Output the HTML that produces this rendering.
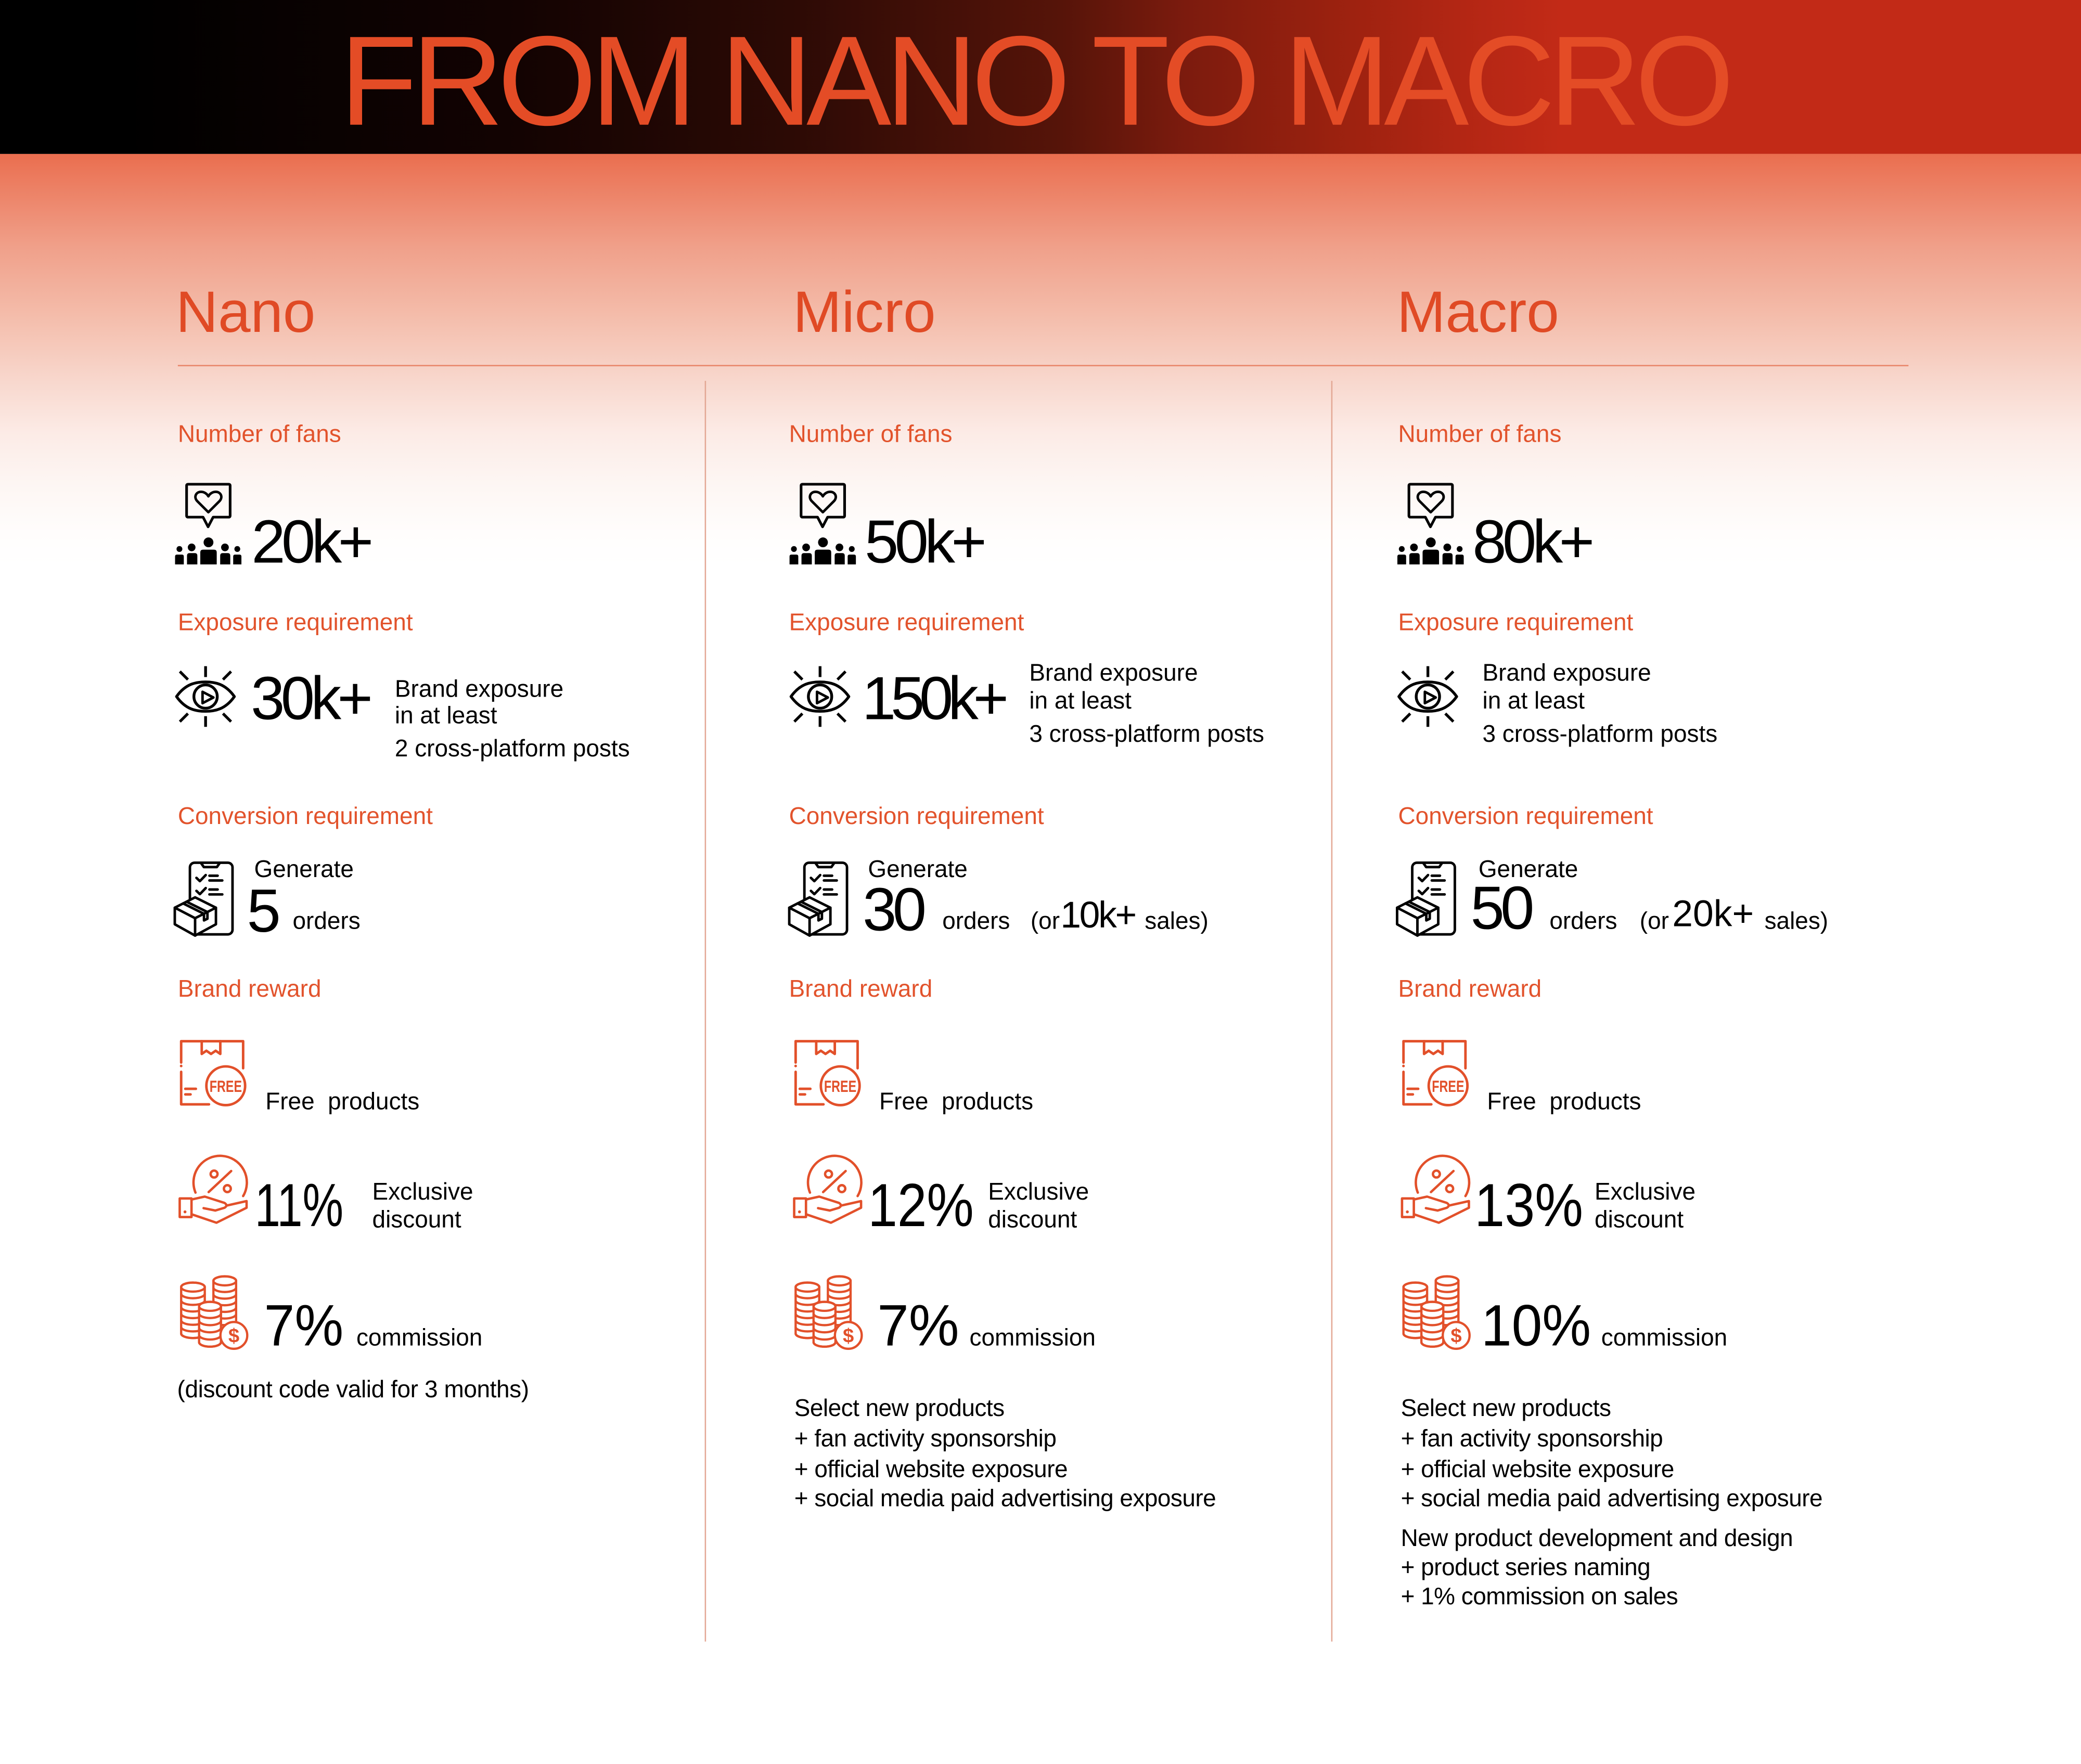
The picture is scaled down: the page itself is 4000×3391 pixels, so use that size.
<!DOCTYPE html>
<html><head><meta charset="utf-8">
<style>
html,body{margin:0;padding:0;background:#fff;}
body{width:4000px;height:3391px;overflow:hidden;}
#root{position:absolute;left:0;top:0;width:1568px;height:1329.3px;transform:scale(2.55102);transform-origin:0 0;overflow:hidden;background:#fff;}
.t{position:absolute;white-space:pre;line-height:1;font-family:"Liberation Sans",Arial,sans-serif;color:#000;}
.lab{font-size:18px;color:#e2532c;}
.b{font-size:18px;}
.big{font-size:46px;letter-spacing:-3px;}
.h{font-size:44px;color:#e04a25;}
.sx{display:inline-block;transform-origin:0 0;}
</style></head>
<body>
<div id="root">
  <div style="position:absolute;left:0;top:0;width:1568px;height:116px;background:linear-gradient(90deg,#000 0%,#000 6%,#130302 25%,#2c0a05 38%,#561409 51%,#7c1b0e 57%,#9a210f 64%,#b22614 70%,#c22a17 75%,#c22a17 100%);"></div>
  <div style="position:absolute;left:0;top:116px;width:1568px;height:310px;background:linear-gradient(180deg,#ea6e4f 0%,#f0a08a 22.7%,#f4bcaa 39%,#f8d8ce 55.6%,#fcebe6 67.8%,#fdf6f3 80%,#fffdfc 92%,#fff 100%);"></div>

  <div class="t" style="left:256px;top:14.3px;font-size:96px;letter-spacing:-4.5px;color:#e44c26;">FROM NANO TO MACRO</div>

  <div class="t h" style="left:132.5px;top:213.8px;">Nano</div>
  <div class="t h" style="left:597.5px;top:213.8px;">Micro</div>
  <div class="t h" style="left:1052.5px;top:213.8px;">Macro</div>

  <div style="position:absolute;left:134px;top:274.5px;width:1304px;height:1px;background:#e8866a;"></div>
  <div style="position:absolute;left:531px;top:287px;width:0.7px;height:950px;background:#e3a895;"></div>
  <div style="position:absolute;left:1003px;top:287px;width:0.7px;height:950px;background:#e3a895;"></div>

  <!-- Labels -->
  <div class="t lab" style="left:134px;top:317.8px;">Number of fans</div>
  <div class="t lab" style="left:594.5px;top:317.8px;">Number of fans</div>
  <div class="t lab" style="left:1053.5px;top:317.8px;">Number of fans</div>
  <div class="t lab" style="left:134px;top:459.6px;">Exposure requirement</div>
  <div class="t lab" style="left:594.5px;top:459.6px;">Exposure requirement</div>
  <div class="t lab" style="left:1053.5px;top:459.6px;">Exposure requirement</div>
  <div class="t lab" style="left:134px;top:605.7px;">Conversion requirement</div>
  <div class="t lab" style="left:594.5px;top:605.7px;">Conversion requirement</div>
  <div class="t lab" style="left:1053.5px;top:605.7px;">Conversion requirement</div>
  <div class="t lab" style="left:134px;top:735.8px;">Brand reward</div>
  <div class="t lab" style="left:594.5px;top:735.8px;">Brand reward</div>
  <div class="t lab" style="left:1053.5px;top:735.8px;">Brand reward</div>

  <!-- Fans -->
  <div class="t big" style="left:189.5px;top:385.4px;">20k+</div>
  <div class="t big" style="left:651.5px;top:385.4px;">50k+</div>
  <div class="t big" style="left:1109.5px;top:385.4px;">80k+</div>

  <!-- Exposure -->
  <div class="t big" style="left:189px;top:503.1px;">30k+</div>
  <div class="t big" style="left:649.5px;top:503.1px;letter-spacing:-4px;">150k+</div>
  <div class="t b" style="left:297.5px;top:509.7px;">Brand exposure</div>
  <div class="t b" style="left:297.5px;top:530.1px;">in at least</div>
  <div class="t b" style="left:297.5px;top:555.2px;">2 cross-platform posts</div>
  <div class="t b" style="left:775.5px;top:498.4px;">Brand exposure</div>
  <div class="t b" style="left:775.5px;top:518.8px;">in at least</div>
  <div class="t b" style="left:775.5px;top:543.6px;">3 cross-platform posts</div>
  <div class="t b" style="left:1117px;top:498.4px;">Brand exposure</div>
  <div class="t b" style="left:1117px;top:518.8px;">in at least</div>
  <div class="t b" style="left:1117px;top:543.6px;">3 cross-platform posts</div>

  <!-- Conversion -->
  <div class="t b" style="left:191.5px;top:646.3px;">Generate</div>
  <div class="t b" style="left:654px;top:646.3px;">Generate</div>
  <div class="t b" style="left:1114px;top:646.3px;">Generate</div>
  <div class="t big" style="left:186px;top:663.1px;">5</div>
  <div class="t big" style="left:650px;top:662.1px;">30</div>
  <div class="t big" style="left:1108px;top:661px;">50</div>
  <div class="t b" style="left:220.5px;top:685.2px;">orders</div>
  <div class="t b" style="left:710px;top:685.2px;">orders</div>
  <div class="t b" style="left:1167.5px;top:685.2px;">orders</div>
  <div class="t b" style="left:776.5px;top:685.2px;">(or</div>
  <div class="t b" style="left:1235.5px;top:685.2px;">(or</div>
  <div class="t" style="left:799px;top:676.3px;font-size:28px;letter-spacing:-1.3px;">10k+</div>
  <div class="t" style="left:1260px;top:675px;font-size:28px;">20k+</div>
  <div class="t b" style="left:862.5px;top:685.2px;">sales)</div>
  <div class="t b" style="left:1329.5px;top:685.2px;">sales)</div>

  <!-- Rewards -->
  <div class="t b" style="left:200px;top:820.8px;">Free  products</div>
  <div class="t b" style="left:662.5px;top:820.8px;">Free  products</div>
  <div class="t b" style="left:1120.5px;top:820.8px;">Free  products</div>

  <div class="t" style="left:191.6px;top:884.7px;font-size:46px;"><span class="sx" style="transform:scaleX(0.753);">11%</span></div>
  <div class="t" style="left:653.7px;top:884.7px;font-size:46px;"><span class="sx" style="transform:scaleX(0.866);">12%</span></div>
  <div class="t" style="left:1110.6px;top:884.7px;font-size:46px;"><span class="sx" style="transform:scaleX(0.889);">13%</span></div>
  <div class="t b" style="left:280.5px;top:889.3px;">Exclusive</div>
  <div class="t b" style="left:280.5px;top:910.3px;">discount</div>
  <div class="t b" style="left:744.5px;top:889.3px;">Exclusive</div>
  <div class="t b" style="left:744.5px;top:910.3px;">discount</div>
  <div class="t b" style="left:1201.5px;top:889.3px;">Exclusive</div>
  <div class="t b" style="left:1201.5px;top:910.3px;">discount</div>

  <div class="t" style="left:198.6px;top:977.8px;font-size:44px;"><span class="sx" style="transform:scaleX(0.94);">7%</span></div>
  <div class="t" style="left:661px;top:977.8px;font-size:44px;"><span class="sx" style="transform:scaleX(0.97);">7%</span></div>
  <div class="t" style="left:1115.5px;top:977.8px;font-size:44px;"><span class="sx" style="transform:scaleX(0.94);">10%</span></div>
  <div class="t b" style="left:268.5px;top:998.8px;">commission</div>
  <div class="t b" style="left:730.5px;top:998.8px;">commission</div>
  <div class="t b" style="left:1206.5px;top:998.8px;">commission</div>

  <div class="t b" style="left:133.5px;top:1037.8px;letter-spacing:-0.15px;">(discount code valid for 3 months)</div>

  <div class="t b" style="left:598.5px;top:1052.1px;letter-spacing:-0.2px;">Select new products</div>
  <div class="t b" style="left:598.5px;top:1074.8px;letter-spacing:-0.2px;">+ fan activity sponsorship</div>
  <div class="t b" style="left:598.5px;top:1097.5px;letter-spacing:-0.2px;">+ official website exposure</div>
  <div class="t b" style="left:598.5px;top:1120.2px;letter-spacing:-0.2px;">+ social media paid advertising exposure</div>

  <div class="t b" style="left:1055.5px;top:1052.1px;letter-spacing:-0.2px;">Select new products</div>
  <div class="t b" style="left:1055.5px;top:1074.8px;letter-spacing:-0.2px;">+ fan activity sponsorship</div>
  <div class="t b" style="left:1055.5px;top:1097.5px;letter-spacing:-0.2px;">+ official website exposure</div>
  <div class="t b" style="left:1055.5px;top:1120.2px;letter-spacing:-0.2px;">+ social media paid advertising exposure</div>
  <div class="t b" style="left:1055.5px;top:1149.8px;letter-spacing:-0.2px;">New product development and design</div>
  <div class="t b" style="left:1055.5px;top:1171.8px;letter-spacing:-0.2px;">+ product series naming</div>
  <div class="t b" style="left:1055.5px;top:1194.4px;letter-spacing:-0.2px;">+ 1% commission on sales</div>

  <svg style="position:absolute;left:0;top:0;" width="1568" height="1329.3" viewBox="0 0 1568 1329.3">
    <!-- ===== Column 1 icons ===== -->
    <g>
      <g fill="#000">
        <path d="M141.6,364.9H172.4Q173.4,364.9 173.4,365.9V388.7Q173.4,389.7 172.4,389.7H160.6L156.8,397L153,389.7H141.6Q140.6,389.7 140.6,388.7V365.9Q140.6,364.9 141.6,364.9Z" fill="none" stroke="#000" stroke-width="2" stroke-linejoin="round"/>
        <path d="M157,386L148.6,377.6C145.8,374.6 147.6,370.6 151.5,370.6C154,370.6 156,372.2 157,374C158,372.2 160,370.6 162.5,370.6C166.4,370.6 168.2,374.6 165.4,377.6Z" fill="none" stroke="#000" stroke-width="1.9" stroke-linejoin="round"/>
        <circle cx="157.1" cy="408.7" r="3.7"/>
        <path d="M150.9,425.3V416.2Q150.9,414.2 152.9,414.2H161.3Q163.3,414.2 163.3,416.2V425.3Z"/>
        <circle cx="144.4" cy="412.5" r="2.9"/>
        <path d="M140.9,425.3V418.7Q140.9,416.8 142.8,416.8H146.8Q148.7,416.8 148.7,418.7V425.3Z"/>
        <circle cx="169.5" cy="412.5" r="2.9"/>
        <path d="M165.9,425.3V418.7Q165.9,416.8 167.8,416.8H171.6Q173.5,416.8 173.5,418.7V425.3Z"/>
        <circle cx="135.2" cy="413.7" r="2.2"/>
        <path d="M131.9,425.3V419.3Q131.9,417.9 133.3,417.9H137.1Q138.5,417.9 138.5,419.3V425.3Z"/>
        <circle cx="178.8" cy="413.7" r="2.2"/>
        <path d="M175.7,425.3V419.3Q175.7,417.9 177.1,417.9H180.5Q181.9,417.9 181.9,419.3V425.3Z"/>
      </g>
      <g fill="none" stroke="#000" stroke-width="2.1">
        <path d="M133,524.9C140,515 148,513.9 154.8,513.9C161.6,513.9 169.6,515 176.6,524.9C169.6,534.8 161.6,536 154.8,536C148,536 140,534.8 133,524.9Z" stroke-linejoin="round"/>
        <circle cx="154.9" cy="524.9" r="8.8"/>
        <path d="M152.6,521.3L160.8,525.6L152.6,529.9Z" stroke-width="1.9" stroke-linejoin="round"/>
        <path d="M154.9,502V510.2M154.9,539.7V547.7M135.5,506L141.6,512.1M174.1,506L168,512.1M135.5,543.8L141.6,537.7M174.1,543.8L168,537.7"/>
      </g>
      <g fill="none" stroke="#000" stroke-width="1.9" stroke-linejoin="round" stroke-linecap="round">
        <rect x="143.1" y="650.1" width="32.1" height="54" rx="3.5"/>
        <path d="M151.5,650.4L153.6,653.4H163.4L165.5,650.4"/>
        <path d="M148,661.5L150.6,664L155,659.4M157.8,659.9H164M157.8,663.5H167.5"/>
        <path d="M148,671.3L150.6,673.8L155,669.2M157.8,670.3H164M157.8,674H167.5"/>
        <path d="M147,676.2L162.7,684V696.5L147,705L131.7,696.5V684Z" fill="#fff"/>
        <path d="M131.7,684L147,691.9L162.7,684M147,691.9V705"/>
        <path d="M138,680.8L153.7,688.6V693.6L156.3,692.3V687.3L140.6,679.5"/>
      </g>
      <g fill="none" stroke="#e2502a" stroke-width="1.9" stroke-linecap="round" stroke-linejoin="round">
        <path d="M136.5,800.7V784.6H183.2V805"/>
        <path d="M136.5,807.7V832.2H157.5"/>
        <path d="M152,784.6V794.2L155.5,791.8L159,794.2L162.5,791.8L166,794.2V784.6"/>
        <circle cx="170.1" cy="818.2" r="14.6"/>
        <path d="M139.6,820.5H147.6M139.6,824.7H143.6"/>
      </g>
      <circle cx="136.5" cy="803.3" r="1" fill="#e2502a"/>
      <text x="157.9" y="822.9" font-family="Liberation Sans, Arial, sans-serif" font-weight="bold" font-size="12.5" fill="#e2502a" textLength="24.4" lengthAdjust="spacingAndGlyphs">FREE</text>
      <g fill="none" stroke="#e2502a" stroke-width="1.8" stroke-linecap="round" stroke-linejoin="round">
        <path d="M147.3,898.7A20.1,20.1 0 1 1 183.2,901.3"/>
        <circle cx="161.3" cy="884.7" r="2.6"/>
        <circle cx="171.3" cy="895.7" r="2.6"/>
        <path d="M157.2,898.3L174.2,882.4"/>
        <rect x="135.4" y="903.1" width="8.9" height="14"/>
        <path d="M144.3,903.9L154.3,901.7L169.2,906.5Q172,908.3 169.2,910.1L162.2,912.2L153.4,910.4M144.3,915L163.1,921.4L185.8,910.1V905.1L170.6,908.5"/>
      </g>
      <circle cx="139.4" cy="913.2" r="1.1" fill="#e2502a"/>
      <g stroke="#e2502a" stroke-width="1.7" fill="none">
        <path d="M160.8,965.2A8.55,3.4 0 0 1 177.9,965.2V995.2A8.55,3.4 0 0 1 160.8,995.2Z" fill="#fff"/>
        <ellipse cx="169.35" cy="965.2" rx="8.55" ry="3.4"/>
        <path d="M160.8,970.2A8.55,3.4 0 0 0 177.9,970.2M160.8,975.2A8.55,3.4 0 0 0 177.9,975.2M160.8,980.2A8.55,3.4 0 0 0 177.9,980.2M160.8,985.2A8.55,3.4 0 0 0 177.9,985.2M160.8,990.2A8.55,3.4 0 0 0 177.9,990.2M160.8,995.2A8.55,3.4 0 0 0 177.9,995.2"/>
        <path d="M136.5,969.9A8.9,3.4 0 0 1 154.3,969.9V1004.9A8.9,3.4 0 0 1 136.5,1004.9Z" fill="#fff"/>
        <ellipse cx="145.4" cy="969.9" rx="8.9" ry="3.4"/>
        <path d="M136.5,974.9A8.9,3.4 0 0 0 154.3,974.9M136.5,979.9A8.9,3.4 0 0 0 154.3,979.9M136.5,984.9A8.9,3.4 0 0 0 154.3,984.9M136.5,989.9A8.9,3.4 0 0 0 154.3,989.9M136.5,994.9A8.9,3.4 0 0 0 154.3,994.9M136.5,999.9A8.9,3.4 0 0 0 154.3,999.9M136.5,1004.9A8.9,3.4 0 0 0 154.3,1004.9"/>
        <path d="M150,984.4A8.25,3.4 0 0 1 166.5,984.4V1011.4A8.25,3.4 0 0 1 150,1011.4Z" fill="#fff"/>
        <ellipse cx="158.25" cy="984.4" rx="8.25" ry="3.4"/>
        <path d="M150,989.8A8.25,3.4 0 0 0 166.5,989.8M150,995.2A8.25,3.4 0 0 0 166.5,995.2M150,1000.6A8.25,3.4 0 0 0 166.5,1000.6M150,1006A8.25,3.4 0 0 0 166.5,1006M150,1011.4A8.25,3.4 0 0 0 166.5,1011.4"/>
        <circle cx="176.2" cy="1006.3" r="10.1" fill="#fff"/>
      </g>
      <text x="176.2" y="1011.6" text-anchor="middle" font-family="Liberation Sans, Arial, sans-serif" font-weight="bold" font-size="15" fill="#e2502a">$</text>
    </g>

    <!-- ===== Column 2 icons ===== -->
    <g transform="translate(463,0)">
      <g fill="#000">
        <path d="M141.6,364.9H172.4Q173.4,364.9 173.4,365.9V388.7Q173.4,389.7 172.4,389.7H160.6L156.8,397L153,389.7H141.6Q140.6,389.7 140.6,388.7V365.9Q140.6,364.9 141.6,364.9Z" fill="none" stroke="#000" stroke-width="2" stroke-linejoin="round"/>
        <path d="M157,386L148.6,377.6C145.8,374.6 147.6,370.6 151.5,370.6C154,370.6 156,372.2 157,374C158,372.2 160,370.6 162.5,370.6C166.4,370.6 168.2,374.6 165.4,377.6Z" fill="none" stroke="#000" stroke-width="1.9" stroke-linejoin="round"/>
        <circle cx="157.1" cy="408.7" r="3.7"/>
        <path d="M150.9,425.3V416.2Q150.9,414.2 152.9,414.2H161.3Q163.3,414.2 163.3,416.2V425.3Z"/>
        <circle cx="144.4" cy="412.5" r="2.9"/>
        <path d="M140.9,425.3V418.7Q140.9,416.8 142.8,416.8H146.8Q148.7,416.8 148.7,418.7V425.3Z"/>
        <circle cx="169.5" cy="412.5" r="2.9"/>
        <path d="M165.9,425.3V418.7Q165.9,416.8 167.8,416.8H171.6Q173.5,416.8 173.5,418.7V425.3Z"/>
        <circle cx="135.2" cy="413.7" r="2.2"/>
        <path d="M131.9,425.3V419.3Q131.9,417.9 133.3,417.9H137.1Q138.5,417.9 138.5,419.3V425.3Z"/>
        <circle cx="178.8" cy="413.7" r="2.2"/>
        <path d="M175.7,425.3V419.3Q175.7,417.9 177.1,417.9H180.5Q181.9,417.9 181.9,419.3V425.3Z"/>
      </g>
      <g fill="none" stroke="#000" stroke-width="2.1">
        <path d="M133,524.9C140,515 148,513.9 154.8,513.9C161.6,513.9 169.6,515 176.6,524.9C169.6,534.8 161.6,536 154.8,536C148,536 140,534.8 133,524.9Z" stroke-linejoin="round"/>
        <circle cx="154.9" cy="524.9" r="8.8"/>
        <path d="M152.6,521.3L160.8,525.6L152.6,529.9Z" stroke-width="1.9" stroke-linejoin="round"/>
        <path d="M154.9,502V510.2M154.9,539.7V547.7M135.5,506L141.6,512.1M174.1,506L168,512.1M135.5,543.8L141.6,537.7M174.1,543.8L168,537.7"/>
      </g>
      <g fill="none" stroke="#000" stroke-width="1.9" stroke-linejoin="round" stroke-linecap="round">
        <rect x="143.1" y="650.1" width="32.1" height="54" rx="3.5"/>
        <path d="M151.5,650.4L153.6,653.4H163.4L165.5,650.4"/>
        <path d="M148,661.5L150.6,664L155,659.4M157.8,659.9H164M157.8,663.5H167.5"/>
        <path d="M148,671.3L150.6,673.8L155,669.2M157.8,670.3H164M157.8,674H167.5"/>
        <path d="M147,676.2L162.7,684V696.5L147,705L131.7,696.5V684Z" fill="#fff"/>
        <path d="M131.7,684L147,691.9L162.7,684M147,691.9V705"/>
        <path d="M138,680.8L153.7,688.6V693.6L156.3,692.3V687.3L140.6,679.5"/>
      </g>
      <g fill="none" stroke="#e2502a" stroke-width="1.9" stroke-linecap="round" stroke-linejoin="round">
        <path d="M136.5,800.7V784.6H183.2V805"/>
        <path d="M136.5,807.7V832.2H157.5"/>
        <path d="M152,784.6V794.2L155.5,791.8L159,794.2L162.5,791.8L166,794.2V784.6"/>
        <circle cx="170.1" cy="818.2" r="14.6"/>
        <path d="M139.6,820.5H147.6M139.6,824.7H143.6"/>
      </g>
      <circle cx="136.5" cy="803.3" r="1" fill="#e2502a"/>
      <text x="157.9" y="822.9" font-family="Liberation Sans, Arial, sans-serif" font-weight="bold" font-size="12.5" fill="#e2502a" textLength="24.4" lengthAdjust="spacingAndGlyphs">FREE</text>
      <g fill="none" stroke="#e2502a" stroke-width="1.8" stroke-linecap="round" stroke-linejoin="round">
        <path d="M147.3,898.7A20.1,20.1 0 1 1 183.2,901.3"/>
        <circle cx="161.3" cy="884.7" r="2.6"/>
        <circle cx="171.3" cy="895.7" r="2.6"/>
        <path d="M157.2,898.3L174.2,882.4"/>
        <rect x="135.4" y="903.1" width="8.9" height="14"/>
        <path d="M144.3,903.9L154.3,901.7L169.2,906.5Q172,908.3 169.2,910.1L162.2,912.2L153.4,910.4M144.3,915L163.1,921.4L185.8,910.1V905.1L170.6,908.5"/>
      </g>
      <circle cx="139.4" cy="913.2" r="1.1" fill="#e2502a"/>
      <g stroke="#e2502a" stroke-width="1.7" fill="none">
        <path d="M160.8,965.2A8.55,3.4 0 0 1 177.9,965.2V995.2A8.55,3.4 0 0 1 160.8,995.2Z" fill="#fff"/>
        <ellipse cx="169.35" cy="965.2" rx="8.55" ry="3.4"/>
        <path d="M160.8,970.2A8.55,3.4 0 0 0 177.9,970.2M160.8,975.2A8.55,3.4 0 0 0 177.9,975.2M160.8,980.2A8.55,3.4 0 0 0 177.9,980.2M160.8,985.2A8.55,3.4 0 0 0 177.9,985.2M160.8,990.2A8.55,3.4 0 0 0 177.9,990.2M160.8,995.2A8.55,3.4 0 0 0 177.9,995.2"/>
        <path d="M136.5,969.9A8.9,3.4 0 0 1 154.3,969.9V1004.9A8.9,3.4 0 0 1 136.5,1004.9Z" fill="#fff"/>
        <ellipse cx="145.4" cy="969.9" rx="8.9" ry="3.4"/>
        <path d="M136.5,974.9A8.9,3.4 0 0 0 154.3,974.9M136.5,979.9A8.9,3.4 0 0 0 154.3,979.9M136.5,984.9A8.9,3.4 0 0 0 154.3,984.9M136.5,989.9A8.9,3.4 0 0 0 154.3,989.9M136.5,994.9A8.9,3.4 0 0 0 154.3,994.9M136.5,999.9A8.9,3.4 0 0 0 154.3,999.9M136.5,1004.9A8.9,3.4 0 0 0 154.3,1004.9"/>
        <path d="M150,984.4A8.25,3.4 0 0 1 166.5,984.4V1011.4A8.25,3.4 0 0 1 150,1011.4Z" fill="#fff"/>
        <ellipse cx="158.25" cy="984.4" rx="8.25" ry="3.4"/>
        <path d="M150,989.8A8.25,3.4 0 0 0 166.5,989.8M150,995.2A8.25,3.4 0 0 0 166.5,995.2M150,1000.6A8.25,3.4 0 0 0 166.5,1000.6M150,1006A8.25,3.4 0 0 0 166.5,1006M150,1011.4A8.25,3.4 0 0 0 166.5,1011.4"/>
        <circle cx="176.2" cy="1006.3" r="10.1" fill="#fff"/>
      </g>
      <text x="176.2" y="1011.6" text-anchor="middle" font-family="Liberation Sans, Arial, sans-serif" font-weight="bold" font-size="15" fill="#e2502a">$</text>
    </g>

    <!-- ===== Column 3 icons ===== -->
    <g transform="translate(921,0)">
      <g fill="#000">
        <path d="M141.6,364.9H172.4Q173.4,364.9 173.4,365.9V388.7Q173.4,389.7 172.4,389.7H160.6L156.8,397L153,389.7H141.6Q140.6,389.7 140.6,388.7V365.9Q140.6,364.9 141.6,364.9Z" fill="none" stroke="#000" stroke-width="2" stroke-linejoin="round"/>
        <path d="M157,386L148.6,377.6C145.8,374.6 147.6,370.6 151.5,370.6C154,370.6 156,372.2 157,374C158,372.2 160,370.6 162.5,370.6C166.4,370.6 168.2,374.6 165.4,377.6Z" fill="none" stroke="#000" stroke-width="1.9" stroke-linejoin="round"/>
        <circle cx="157.1" cy="408.7" r="3.7"/>
        <path d="M150.9,425.3V416.2Q150.9,414.2 152.9,414.2H161.3Q163.3,414.2 163.3,416.2V425.3Z"/>
        <circle cx="144.4" cy="412.5" r="2.9"/>
        <path d="M140.9,425.3V418.7Q140.9,416.8 142.8,416.8H146.8Q148.7,416.8 148.7,418.7V425.3Z"/>
        <circle cx="169.5" cy="412.5" r="2.9"/>
        <path d="M165.9,425.3V418.7Q165.9,416.8 167.8,416.8H171.6Q173.5,416.8 173.5,418.7V425.3Z"/>
        <circle cx="135.2" cy="413.7" r="2.2"/>
        <path d="M131.9,425.3V419.3Q131.9,417.9 133.3,417.9H137.1Q138.5,417.9 138.5,419.3V425.3Z"/>
        <circle cx="178.8" cy="413.7" r="2.2"/>
        <path d="M175.7,425.3V419.3Q175.7,417.9 177.1,417.9H180.5Q181.9,417.9 181.9,419.3V425.3Z"/>
      </g>
      <g fill="none" stroke="#000" stroke-width="2.1">
        <path d="M133,524.9C140,515 148,513.9 154.8,513.9C161.6,513.9 169.6,515 176.6,524.9C169.6,534.8 161.6,536 154.8,536C148,536 140,534.8 133,524.9Z" stroke-linejoin="round"/>
        <circle cx="154.9" cy="524.9" r="8.8"/>
        <path d="M152.6,521.3L160.8,525.6L152.6,529.9Z" stroke-width="1.9" stroke-linejoin="round"/>
        <path d="M154.9,502V510.2M154.9,539.7V547.7M135.5,506L141.6,512.1M174.1,506L168,512.1M135.5,543.8L141.6,537.7M174.1,543.8L168,537.7"/>
      </g>
      <g fill="none" stroke="#000" stroke-width="1.9" stroke-linejoin="round" stroke-linecap="round">
        <rect x="143.1" y="650.1" width="32.1" height="54" rx="3.5"/>
        <path d="M151.5,650.4L153.6,653.4H163.4L165.5,650.4"/>
        <path d="M148,661.5L150.6,664L155,659.4M157.8,659.9H164M157.8,663.5H167.5"/>
        <path d="M148,671.3L150.6,673.8L155,669.2M157.8,670.3H164M157.8,674H167.5"/>
        <path d="M147,676.2L162.7,684V696.5L147,705L131.7,696.5V684Z" fill="#fff"/>
        <path d="M131.7,684L147,691.9L162.7,684M147,691.9V705"/>
        <path d="M138,680.8L153.7,688.6V693.6L156.3,692.3V687.3L140.6,679.5"/>
      </g>
      <g fill="none" stroke="#e2502a" stroke-width="1.9" stroke-linecap="round" stroke-linejoin="round">
        <path d="M136.5,800.7V784.6H183.2V805"/>
        <path d="M136.5,807.7V832.2H157.5"/>
        <path d="M152,784.6V794.2L155.5,791.8L159,794.2L162.5,791.8L166,794.2V784.6"/>
        <circle cx="170.1" cy="818.2" r="14.6"/>
        <path d="M139.6,820.5H147.6M139.6,824.7H143.6"/>
      </g>
      <circle cx="136.5" cy="803.3" r="1" fill="#e2502a"/>
      <text x="157.9" y="822.9" font-family="Liberation Sans, Arial, sans-serif" font-weight="bold" font-size="12.5" fill="#e2502a" textLength="24.4" lengthAdjust="spacingAndGlyphs">FREE</text>
      <g fill="none" stroke="#e2502a" stroke-width="1.8" stroke-linecap="round" stroke-linejoin="round">
        <path d="M147.3,898.7A20.1,20.1 0 1 1 183.2,901.3"/>
        <circle cx="161.3" cy="884.7" r="2.6"/>
        <circle cx="171.3" cy="895.7" r="2.6"/>
        <path d="M157.2,898.3L174.2,882.4"/>
        <rect x="135.4" y="903.1" width="8.9" height="14"/>
        <path d="M144.3,903.9L154.3,901.7L169.2,906.5Q172,908.3 169.2,910.1L162.2,912.2L153.4,910.4M144.3,915L163.1,921.4L185.8,910.1V905.1L170.6,908.5"/>
      </g>
      <circle cx="139.4" cy="913.2" r="1.1" fill="#e2502a"/>
      <g stroke="#e2502a" stroke-width="1.7" fill="none">
        <path d="M160.8,965.2A8.55,3.4 0 0 1 177.9,965.2V995.2A8.55,3.4 0 0 1 160.8,995.2Z" fill="#fff"/>
        <ellipse cx="169.35" cy="965.2" rx="8.55" ry="3.4"/>
        <path d="M160.8,970.2A8.55,3.4 0 0 0 177.9,970.2M160.8,975.2A8.55,3.4 0 0 0 177.9,975.2M160.8,980.2A8.55,3.4 0 0 0 177.9,980.2M160.8,985.2A8.55,3.4 0 0 0 177.9,985.2M160.8,990.2A8.55,3.4 0 0 0 177.9,990.2M160.8,995.2A8.55,3.4 0 0 0 177.9,995.2"/>
        <path d="M136.5,969.9A8.9,3.4 0 0 1 154.3,969.9V1004.9A8.9,3.4 0 0 1 136.5,1004.9Z" fill="#fff"/>
        <ellipse cx="145.4" cy="969.9" rx="8.9" ry="3.4"/>
        <path d="M136.5,974.9A8.9,3.4 0 0 0 154.3,974.9M136.5,979.9A8.9,3.4 0 0 0 154.3,979.9M136.5,984.9A8.9,3.4 0 0 0 154.3,984.9M136.5,989.9A8.9,3.4 0 0 0 154.3,989.9M136.5,994.9A8.9,3.4 0 0 0 154.3,994.9M136.5,999.9A8.9,3.4 0 0 0 154.3,999.9M136.5,1004.9A8.9,3.4 0 0 0 154.3,1004.9"/>
        <path d="M150,984.4A8.25,3.4 0 0 1 166.5,984.4V1011.4A8.25,3.4 0 0 1 150,1011.4Z" fill="#fff"/>
        <ellipse cx="158.25" cy="984.4" rx="8.25" ry="3.4"/>
        <path d="M150,989.8A8.25,3.4 0 0 0 166.5,989.8M150,995.2A8.25,3.4 0 0 0 166.5,995.2M150,1000.6A8.25,3.4 0 0 0 166.5,1000.6M150,1006A8.25,3.4 0 0 0 166.5,1006M150,1011.4A8.25,3.4 0 0 0 166.5,1011.4"/>
        <circle cx="176.2" cy="1006.3" r="10.1" fill="#fff"/>
      </g>
      <text x="176.2" y="1011.6" text-anchor="middle" font-family="Liberation Sans, Arial, sans-serif" font-weight="bold" font-size="15" fill="#e2502a">$</text>
    </g>
  </svg>
</div>
</body></html>
